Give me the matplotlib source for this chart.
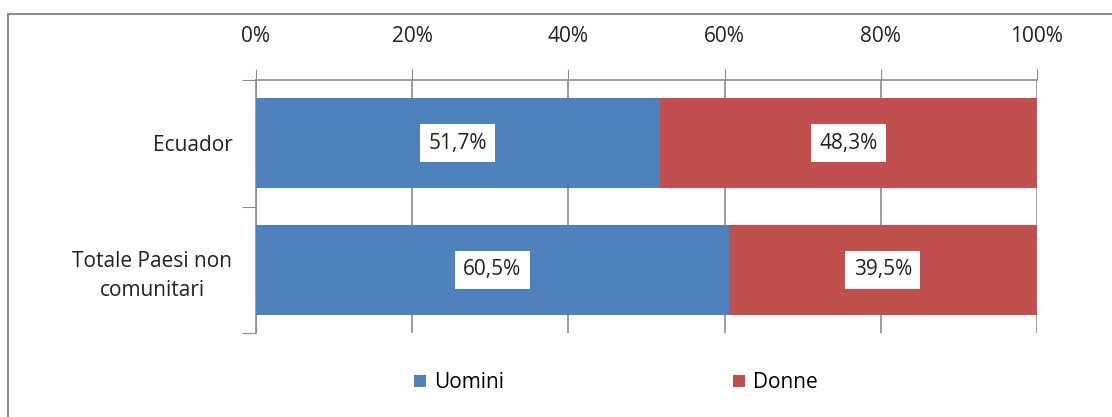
import matplotlib.pyplot as plt
from matplotlib.patches import Rectangle

plt.rcParams['font.family'] = ['Open Sans', 'DejaVu Sans']

categories = ['Ecuador', 'Totale Paesi non\ncomunitari']
uomini = [51.7, 60.5]
donne = [48.3, 39.5]
ticks = [0, 20, 40, 60, 80, 100]

blue = '#4F81BD'
red = '#C0504D'
grid = '#8C8C8C'
txt = '#222222'
fs = 15

fig = plt.figure(figsize=(11.12, 4.17), dpi=100)
fig.patches.append(Rectangle((8 / 1112, -0.1), 1.2, 1 - 14 / 417 + 0.1,
                             transform=fig.transFigure, fill=False,
                             edgecolor='#8C8C8C', lw=1.5))
ax = fig.add_axes([256 / 1112, 84 / 417, 781 / 1112, 253 / 417])

y = range(len(categories))
b1 = ax.barh(y, uomini, height=0.71, color=blue, label='Uomini', zorder=3)
b2 = ax.barh(y, donne, left=uomini, height=0.71, color=red, label='Donne', zorder=3)

for vals, lefts in ((uomini, [0, 0]), (donne, uomini)):
    for i, (v, l) in enumerate(zip(vals, lefts)):
        ax.text(l + v / 2, i, f'{v:.1f}%'.replace('.', ','), ha='center', va='center',
                fontsize=fs, color=txt, zorder=4,
                bbox=dict(boxstyle='square,pad=0.4', fc='white', ec='none'))

ax.set_xlim(0, 100)
ax.set_ylim(1.5, -0.5)
ax.set_xticks(ticks)
ax.set_xticklabels([f'{t}%' for t in ticks], fontsize=fs, color=txt)
ax.xaxis.tick_top()
ax.tick_params(axis='x', length=8, color=grid, pad=16)
ax.set_yticks([-0.5, 0.5, 1.5])
ax.set_yticklabels([])
ax.set_yticks(list(y), minor=True)
ax.set_yticklabels(categories, minor=True, fontsize=fs, color=txt, ha='right')
ax.tick_params(axis='y', which='major', length=10, color=grid)
ax.tick_params(axis='y', which='minor', length=0, pad=17)
for lab in ax.get_yticklabels(minor=True):
    lab.set_multialignment('center')
    lab.set_linespacing(1.5)
ax.grid(axis='x', color=grid, lw=1.2, zorder=0)
for s in ['right', 'bottom']:
    ax.spines[s].set_visible(False)
for s in ['top', 'left']:
    ax.spines[s].set_color(grid)
    ax.spines[s].set_linewidth(1.2)

fig.legend(handles=[b1, b2], loc='center', bbox_to_anchor=(0.554, 1 - 383 / 417),
           ncol=2, frameon=False, fontsize=fs, handlelength=0.55, handleheight=0.55,
           handletextpad=0.4, columnspacing=11.0)

fig.savefig('out.png', dpi=100)
